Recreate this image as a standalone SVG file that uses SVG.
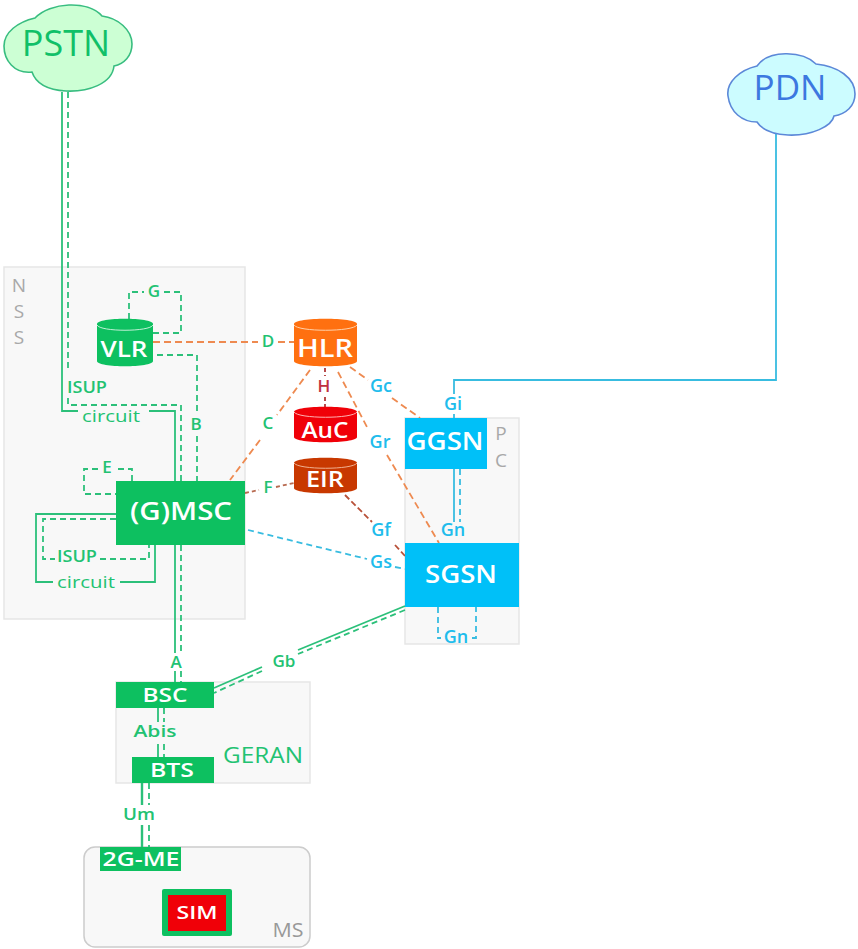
<svg xmlns="http://www.w3.org/2000/svg" width="858" height="949" viewBox="0 0 858 949">
<defs>
<style>
text{font-family:"Open Sans","Liberation Sans",sans-serif;text-anchor:middle;font-weight:600}
.box{fill:#f8f8f8;stroke:#e6e6e6;stroke-width:1.5}
.g{fill:#0dc060}.b{fill:#00c0f8}
.wt{fill:#fff;font-size:25px}
.lg{fill:#22c272;font-size:17px}
.lb{fill:#20bcec;font-size:18px}
.gray{fill:#a8a8a8;font-weight:400;font-size:19px}
.sg{fill:none;stroke:#2cc07a;stroke-width:1.8}
.dg{fill:none;stroke:#2cc07a;stroke-width:1.8;stroke-dasharray:6 4}
.sb{fill:none;stroke:#38bce0;stroke-width:1.8}
.db{fill:none;stroke:#38bce0;stroke-width:1.8;stroke-dasharray:6 4}
.do{fill:none;stroke:#ee8a50;stroke-width:1.8;stroke-dasharray:7 4}
.dr{fill:none;stroke:#b03838;stroke-width:1.8;stroke-dasharray:4 3}
.dbr{fill:none;stroke:#b85038;stroke-width:1.8;stroke-dasharray:6 3}
</style>
</defs>
<g id="areas">
<rect class="box" x="4" y="267" width="241" height="352"/>
<rect class="box" x="405" y="418" width="114" height="226"/>
<rect class="box" x="116" y="682" width="194" height="101"/>
<rect class="box" x="84" y="847" width="226" height="100" rx="11" style="stroke:#ccc"/>
<text class="gray" x="19" y="292">N</text><text class="gray" x="19" y="318">S</text><text class="gray" x="19" y="344">S</text>
<text class="gray" x="501" y="440">P</text><text class="gray" x="501" y="467">C</text>
<text x="263" y="763" textLength="80" lengthAdjust="spacingAndGlyphs" style="fill:#22c272;font-size:22px;font-weight:400">GERAN</text>
<text x="288" y="937" textLength="31" lengthAdjust="spacingAndGlyphs" style="fill:#999;font-size:20px;font-weight:400">MS</text>
</g>
<g id="connectors">
<path class="sg" d="M62 92V411H78M149 411H175V653M175 671V682"/>
<path class="dg" d="M68 92V372M68 398V405H181V653M181 671V682"/>
<path class="dg" d="M129 319V292H144M164 292H181V333H153"/>
<path class="dg" d="M157 355H197V415M197 436V481"/>
<path class="do" d="M153 342H258M278 342H294"/>
<path class="dg" d="M132 481V469H116M98 469H84V494H116"/>
<path class="sg" d="M116 514H36V582H53M120 582H155V545"/>
<path class="dg" d="M116 519H43V559H55M100 559H149V545"/>
<path class="do" d="M310 370L277 415M260 440L230 480"/>
<path class="dr" d="M325 368V376M325 397V407"/>
<path class="dr" d="M245 493L259 490M276 487L294 483" style="stroke:#b86a50"/>
<path class="dbr" d="M345 495L372 522M395 545L405 556"/>
<path class="do" d="M350 367L368 380M392 398L420 418"/>
<path class="do" d="M338 372L367 427M387 455L439 543"/>
<path class="db" d="M248 530L367 559M395 567L405 569"/>
<path class="sb" d="M454 469V522"/><path class="db" d="M460 469V522"/>
<path class="db" d="M438 607V638H441M472 638H476V607"/>
<path class="sb" d="M454 394V380H776V130"/>
<path class="sb" d="M454 414V418"/>
<path class="sg" d="M405 606L298 650M262 667L214 688"/>
<path class="dg" d="M405 610L298 654M262 671L214 693"/>
<path class="sg" d="M158 708V722M158 744V757"/><path class="dg" d="M164 708V722M164 744V757"/>
<path class="sg" d="M142 783V805M142 825V847" style="stroke-width:2.4"/><path class="dg" d="M149 783V805M149 825V847"/>
</g>
<g id="labels">
<text class="lg" x="154" y="297">G</text>
<text class="lg" x="87" y="393" textLength="40" lengthAdjust="spacingAndGlyphs">ISUP</text>
<text class="lg" x="111" y="422" textLength="58" lengthAdjust="spacingAndGlyphs" style="font-weight:400">circuit</text>
<text class="lg" x="196" y="430">B</text>
<text class="lg" x="268" y="347">D</text>
<text class="lg" x="107" y="473">E</text>
<text class="lg" x="77" y="562" textLength="40" lengthAdjust="spacingAndGlyphs">ISUP</text>
<text class="lg" x="86" y="588" textLength="58" lengthAdjust="spacingAndGlyphs" style="font-weight:400">circuit</text>
<text class="lg" x="268" y="429">C</text>
<text class="lg" x="268" y="493">F</text>
<text x="324" y="392" style="fill:#c03040;font-size:17px">H</text>
<text class="lb" x="381" y="392">Gc</text>
<text class="lb" x="380" y="448">Gr</text>
<text class="lb" x="381" y="536">Gf</text>
<text class="lb" x="381" y="568">Gs</text>
<text class="lb" x="453" y="410">Gi</text>
<text class="lb" x="453" y="536">Gn</text>
<text class="lb" x="456" y="643">Gn</text>
<text class="lg" x="176" y="668">A</text>
<text class="lg" x="284" y="667">Gb</text>
<text class="lg" x="155" y="737" textLength="43" lengthAdjust="spacingAndGlyphs">Abis</text>
<text class="lg" x="139" y="820" textLength="32" lengthAdjust="spacingAndGlyphs">Um</text>
</g>
<g id="PSTN">
<path d="M35 18C50 2 88 0 102 16C118 18 132 30 132 44C132 56 124 64 114 66C112 84 88 92 66 91C48 90 36 84 32 72C14 74 4 60 4 46C4 32 18 22 35 18Z" style="fill:#ccffd4;stroke:#38bd80;stroke-width:1.6"/>
<text x="66" y="56" style="fill:#10c068;font-size:36px;font-weight:400">PSTN</text>
</g>
<g id="PDN">
<path d="M757 66C768 50 802 50 816 64C838 66 855 78 855 94C855 106 846 114 834 116C832 126 812 136 788 135C772 134 762 130 757 122C742 122 730 112 728 96C726 82 740 70 757 66Z" style="fill:#ccfcff;stroke:#5c88d8;stroke-width:1.6"/>
<text x="790" y="100" style="fill:#3c78e0;font-size:35px;font-weight:400">PDN</text>
</g>
<g id="VLR">
<path style="fill:#0dc060" d="M97 324C97 317 153 317 153 324V361C153 368 97 368 97 361Z"/>
<path d="M97 325C100 332 150 332 153 325" style="fill:none;stroke:#bff0d5;stroke-width:1"/>
<text class="wt" style="font-size:21px" x="124" y="357" textLength="47" lengthAdjust="spacingAndGlyphs">VLR</text>
</g>
<g id="HLR">
<path style="fill:#ff7010" d="M294 324C294 317 357 317 357 324V361C357 368 294 368 294 361Z"/>
<path d="M294 325C298 332 353 332 357 325" style="fill:none;stroke:#ffd0a8;stroke-width:1"/>
<text class="wt" style="font-size:25px" x="325" y="357" textLength="56" lengthAdjust="spacingAndGlyphs">HLR</text>
</g>
<g id="AuC">
<path style="fill:#f00008" d="M294 412C294 405 357 405 357 412V437C357 444 294 444 294 437Z"/>
<path d="M294 412C298 419 353 419 357 412" style="fill:none;stroke:#ffb0b0;stroke-width:1"/>
<text class="wt" style="font-size:21px" x="325" y="438" textLength="47" lengthAdjust="spacingAndGlyphs">AuC</text>
</g>
<g id="EIR">
<path style="fill:#c83800" d="M294 463C294 456 357 456 357 463V488C357 495 294 495 294 488Z"/>
<path d="M294 463C298 470 353 470 357 463" style="fill:none;stroke:#f0b090;stroke-width:1"/>
<text class="wt" style="font-size:21px" x="325" y="487" textLength="38" lengthAdjust="spacingAndGlyphs">EIR</text>
</g>
<g id="MSC"><rect class="g" x="116" y="481" width="129" height="64"/><text class="wt" x="181" y="520" textLength="102" lengthAdjust="spacingAndGlyphs">(G)MSC</text></g>
<g id="GGSN"><rect class="b" x="405" y="418" width="82" height="51"/><text class="wt" x="445" y="450" textLength="77" lengthAdjust="spacingAndGlyphs">GGSN</text></g>
<g id="SGSN"><rect class="b" x="405" y="543" width="114" height="64"/><text class="wt" x="461" y="583" textLength="72" lengthAdjust="spacingAndGlyphs">SGSN</text></g>
<g id="BSC"><rect class="g" x="116" y="682" width="98" height="26"/><text class="wt" style="font-size:20px" x="165" y="702" textLength="45" lengthAdjust="spacingAndGlyphs">BSC</text></g>
<g id="BTS"><rect class="g" x="132" y="757" width="82" height="26"/><text class="wt" style="font-size:20px" x="172" y="777" textLength="44" lengthAdjust="spacingAndGlyphs">BTS</text></g>
<g id="ME"><rect class="g" x="100" y="847" width="81" height="24"/><text class="wt" style="font-size:20px" x="141" y="866" textLength="77" lengthAdjust="spacingAndGlyphs">2G-ME</text></g>
<g id="SIM"><rect class="g" x="162" y="889" width="70" height="47" rx="2"/><rect x="168" y="895" width="58" height="36" fill="#f00008"/><text class="wt" style="font-size:18px" x="197" y="919" textLength="41" lengthAdjust="spacingAndGlyphs">SIM</text></g>
</svg>
